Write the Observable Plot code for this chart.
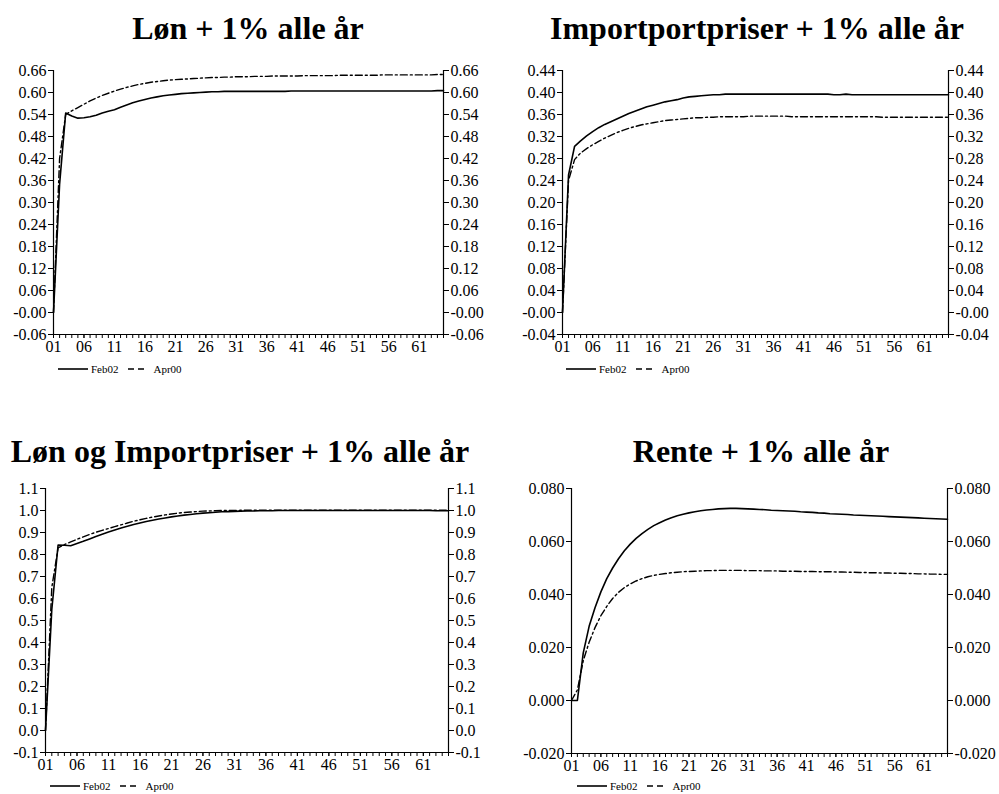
<!DOCTYPE html>
<html><head><meta charset="utf-8">
<script src="https://cdn.jsdelivr.net/npm/d3@7"></script>
<script src="https://cdn.jsdelivr.net/npm/@observablehq/plot@0.6"></script>
<style>
body{margin:0;background:#fff;}
#root{position:relative;width:999px;height:794px;font-family:"Liberation Serif","Times New Roman",serif;color:#000;overflow:hidden;}
.title{position:absolute;font-weight:bold;font-size:32px;white-space:nowrap;transform:translateX(-50%);line-height:1;}
.panel{position:absolute;}
.legend{position:absolute;font-size:11px;display:flex;align-items:center;white-space:nowrap;height:12px;line-height:12px;}
.legend svg{display:block;}
</style></head><body><div id="root"></div>
<script>
// ---------- categories ----------
const periods = Array.from({length: 65}, (_, i) => i + 1);
const xTicks = [1, 6, 11, 16, 21, 26, 31, 36, 41, 46, 51, 56, 61];
const xLabels = ["01","06","11","16","21","26","31","36","41","46","51","56","61"];
const seriesNames = ["Feb02", "Apr00"];
const titles = ["Løn + 1% alle år", "Importportpriser + 1% alle år", "Løn og Importpriser + 1% alle år", "Rente + 1% alle år"];

// ---------- panel 1: Løn ----------
const lonFeb02 = [
  0.000, 0.350, 0.544, 0.536, 0.530, 0.531, 0.534, 0.538, 0.544, 0.549,
  0.553, 0.560, 0.566, 0.572, 0.577, 0.581, 0.585, 0.588, 0.591, 0.593,
  0.595, 0.597, 0.598, 0.599, 0.600, 0.601, 0.602, 0.602, 0.603, 0.603,
  0.603, 0.603, 0.603, 0.603, 0.603, 0.603, 0.603, 0.603, 0.603, 0.604,
  0.604, 0.604, 0.604, 0.604, 0.604, 0.604, 0.604, 0.604, 0.604, 0.604,
  0.604, 0.604, 0.604, 0.604, 0.604, 0.604, 0.604, 0.604, 0.604, 0.604,
  0.604, 0.604, 0.604, 0.605, 0.605];
const lonApr00 = [
  0.000, 0.420, 0.540, 0.550, 0.559, 0.568, 0.577, 0.585, 0.592, 0.598,
  0.604, 0.609, 0.614, 0.618, 0.622, 0.625, 0.628, 0.630, 0.632, 0.634,
  0.635, 0.636, 0.637, 0.638, 0.639, 0.640, 0.641, 0.641, 0.642, 0.642,
  0.643, 0.643, 0.643, 0.644, 0.644, 0.644, 0.645, 0.645, 0.645, 0.645,
  0.645, 0.646, 0.646, 0.646, 0.646, 0.646, 0.646, 0.647, 0.647, 0.647,
  0.647, 0.647, 0.647, 0.647, 0.648, 0.648, 0.648, 0.648, 0.648, 0.648,
  0.648, 0.648, 0.648, 0.649, 0.649];
const lonTicks = [-0.06, 0, 0.06, 0.12, 0.18, 0.24, 0.30, 0.36, 0.42, 0.48, 0.54, 0.60, 0.66];
const lonLabels = ["-0.06","-0.00","0.06","0.12","0.18","0.24","0.30","0.36","0.42","0.48","0.54","0.60","0.66"];

// ---------- panel 2: Importpriser ----------
const impFeb02 = [
  0.000, 0.250, 0.302, 0.312, 0.321, 0.329, 0.336, 0.342, 0.347, 0.352,
  0.357, 0.362, 0.366, 0.370, 0.374, 0.377, 0.380, 0.383, 0.385, 0.387,
  0.390, 0.392, 0.393, 0.394, 0.395, 0.396, 0.396, 0.397, 0.397, 0.397,
  0.397, 0.397, 0.397, 0.397, 0.397, 0.397, 0.397, 0.397, 0.397, 0.397,
  0.397, 0.397, 0.397, 0.397, 0.397, 0.396, 0.396, 0.397, 0.396, 0.396,
  0.396, 0.396, 0.396, 0.396, 0.396, 0.396, 0.396, 0.396, 0.396, 0.396,
  0.396, 0.396, 0.396, 0.396, 0.396];
const impApr00 = [
  0.000, 0.240, 0.278, 0.290, 0.298, 0.305, 0.311, 0.317, 0.322, 0.327,
  0.331, 0.335, 0.338, 0.341, 0.343, 0.345, 0.347, 0.349, 0.350, 0.351,
  0.352, 0.353, 0.354, 0.354, 0.355, 0.355, 0.356, 0.356, 0.356, 0.356,
  0.356, 0.357, 0.357, 0.357, 0.357, 0.357, 0.357, 0.357, 0.356, 0.356,
  0.356, 0.356, 0.356, 0.356, 0.356, 0.356, 0.356, 0.356, 0.356, 0.356,
  0.356, 0.356, 0.356, 0.355, 0.355, 0.355, 0.355, 0.355, 0.355, 0.355,
  0.355, 0.355, 0.355, 0.355, 0.355];
const impTicks = [-0.04, 0, 0.04, 0.08, 0.12, 0.16, 0.20, 0.24, 0.28, 0.32, 0.36, 0.40, 0.44];
const impLabels = ["-0.04","-0.00","0.04","0.08","0.12","0.16","0.20","0.24","0.28","0.32","0.36","0.40","0.44"];

// ---------- panel 3: Løn og Importpriser ----------
const bothFeb02 = [
  0.000, 0.550, 0.843, 0.842, 0.840, 0.850, 0.860, 0.871, 0.882, 0.892,
  0.902, 0.911, 0.920, 0.928, 0.936, 0.943, 0.950, 0.956, 0.961, 0.966,
  0.971, 0.975, 0.979, 0.982, 0.985, 0.988, 0.990, 0.992, 0.994, 0.995,
  0.996, 0.997, 0.998, 0.998, 0.999, 0.999, 0.999, 1.000, 1.000, 1.000,
  1.000, 1.000, 1.000, 1.000, 1.000, 1.000, 1.000, 1.000, 1.000, 1.000,
  1.000, 1.000, 1.000, 1.000, 1.000, 1.000, 1.000, 1.000, 1.000, 1.000,
  1.000, 1.000, 0.999, 0.999, 0.999];
const bothApr00 = [
  0.000, 0.650, 0.830, 0.845, 0.857, 0.869, 0.880, 0.891, 0.901, 0.910,
  0.918, 0.927, 0.935, 0.943, 0.951, 0.958, 0.964, 0.970, 0.975, 0.980,
  0.984, 0.988, 0.991, 0.993, 0.995, 0.997, 0.998, 0.999, 1.000, 1.000,
  1.000, 1.001, 1.001, 1.001, 1.001, 1.001, 1.001, 1.001, 1.001, 1.001,
  1.001, 1.001, 1.001, 1.001, 1.001, 1.001, 1.001, 1.001, 1.001, 1.001,
  1.001, 1.001, 1.001, 1.001, 1.001, 1.001, 1.001, 1.001, 1.001, 1.001,
  1.001, 1.001, 1.001, 1.001, 1.001];
const bothTicks = [-0.1, 0, 0.1, 0.2, 0.3, 0.4, 0.5, 0.6, 0.7, 0.8, 0.9, 1.0, 1.1];
const bothLabels = ["-0.1","0.0","0.1","0.2","0.3","0.4","0.5","0.6","0.7","0.8","0.9","1.0","1.1"];

// ---------- panel 4: Rente ----------
const renteFeb02 = [
  0.0000, 0.0000, 0.0180, 0.0280, 0.0350, 0.0410, 0.0460, 0.0500, 0.0535, 0.0565,
  0.0590, 0.0612, 0.0630, 0.0646, 0.0660, 0.0671, 0.0681, 0.0690, 0.0697, 0.0703,
  0.0708, 0.0712, 0.0716, 0.0719, 0.0721, 0.0723, 0.0724, 0.0725, 0.0725, 0.0724,
  0.0723, 0.0722, 0.0721, 0.0720, 0.0718, 0.0717, 0.0716, 0.0715, 0.0714, 0.0712,
  0.0711, 0.0710, 0.0708, 0.0707, 0.0705, 0.0704, 0.0703, 0.0702, 0.0700, 0.0699,
  0.0698, 0.0697, 0.0696, 0.0695, 0.0694, 0.0693, 0.0692, 0.0691, 0.0690, 0.0689,
  0.0688, 0.0687, 0.0686, 0.0685, 0.0684];
const renteApr00 = [
  0.0000, 0.0040, 0.0150, 0.0220, 0.0275, 0.0320, 0.0355, 0.0385, 0.0408, 0.0426,
  0.0440, 0.0451, 0.0460, 0.0467, 0.0472, 0.0476, 0.0479, 0.0482, 0.0484, 0.0486,
  0.0487, 0.0488, 0.0489, 0.0490, 0.0490, 0.0491, 0.0491, 0.0491, 0.0491, 0.0491,
  0.0490, 0.0490, 0.0490, 0.0489, 0.0489, 0.0489, 0.0488, 0.0488, 0.0488, 0.0487,
  0.0487, 0.0487, 0.0486, 0.0486, 0.0486, 0.0485, 0.0485, 0.0484, 0.0484, 0.0483,
  0.0483, 0.0482, 0.0482, 0.0481, 0.0481, 0.0480, 0.0480, 0.0479, 0.0479, 0.0478,
  0.0478, 0.0477, 0.0477, 0.0476, 0.0476];
const renteTicks = [-0.02, 0, 0.02, 0.04, 0.06, 0.08];
const renteLabels = ["-0.020","0.000","0.020","0.040","0.060","0.080"];

// ---------- layout ----------
const root = document.getElementById("root");
const panels = [
  {title: titles[0], cx: 248, ty: 12, left: 0, top: 50, w: 500, h: 320, ml: 53, mr: 57, mt: 20, mb: 36,
   feb: lonFeb02, apr: lonApr00, ticks: lonTicks, labels: lonLabels, lx: 58, ly: 363},
  {title: titles[1], cx: 757, ty: 12, left: 500, top: 50, w: 499, h: 320, ml: 62, mr: 51, mt: 20, mb: 36,
   feb: impFeb02, apr: impApr00, ticks: impTicks, labels: impLabels, lx: 566, ly: 363},
  {title: titles[2], cx: 240, ty: 435, left: 0, top: 468, w: 500, h: 320, ml: 45, mr: 52, mt: 20, mb: 36,
   feb: bothFeb02, apr: bothApr00, ticks: bothTicks, labels: bothLabels, lx: 50, ly: 780},
  {title: titles[3], cx: 761, ty: 435, left: 500, top: 468, w: 499, h: 320, ml: 71, mr: 52, mt: 20, mb: 35,
   feb: renteFeb02, apr: renteApr00, ticks: renteTicks, labels: renteLabels, lx: 577, ly: 780}
];

const DASH = "7,3,2,3";

for (const p of panels) {
  const t = document.createElement("div");
  t.className = "title";
  t.style.left = p.cx + "px";
  t.style.top = p.ty + "px";
  t.textContent = p.title;
  root.appendChild(t);

  const yFmt = d => p.labels[p.ticks.indexOf(d)];
  const xFmt = d => xLabels[xTicks.indexOf(d)];
  const ymin = p.ticks[0], ymax = p.ticks[p.ticks.length - 1];

  const chart = Plot.plot({
    width: p.w, height: p.h,
    marginLeft: p.ml, marginRight: p.mr, marginTop: p.mt, marginBottom: p.mb,
    style: {fontFamily: "'Liberation Serif','Times New Roman',serif", fontSize: "16px", color: "#000", background: "transparent", overflow: "visible"},
    x: {domain: [1, 65], axis: null},
    y: {domain: [ymin, ymax], axis: null},
    marks: [
      Plot.axisX({ticks: periods, tickSize: 4, tickFormat: () => "", stroke: "#000"}),
      Plot.axisX({ticks: xTicks, tickSize: 4, tickPadding: 2, tickFormat: xFmt, stroke: "#000", fill: "#000"}),
      Plot.axisY({anchor: "left", ticks: p.ticks, tickSize: 5, tickPadding: 2, tickFormat: yFmt, stroke: "#000", fill: "#000"}),
      Plot.axisY({anchor: "right", ticks: p.ticks, tickSize: 5, tickPadding: 2, tickFormat: yFmt, stroke: "#000", fill: "#000"}),
      Plot.ruleX([1, 65], {stroke: "#000", strokeWidth: 1.2}),
      Plot.ruleY([ymin], {stroke: "#000", strokeWidth: 1.2}),
      Plot.line(p.apr, {x: periods, y: p.apr, stroke: "#000", strokeWidth: 1.4, strokeDasharray: DASH}),
      Plot.line(p.feb, {x: periods, y: p.feb, stroke: "#000", strokeWidth: 1.6})
    ]
  });
  const wrap = document.createElement("div");
  wrap.className = "panel";
  wrap.style.left = p.left + "px";
  wrap.style.top = p.top + "px";
  wrap.appendChild(chart);
  root.appendChild(wrap);

  const lg = document.createElement("div");
  lg.className = "legend";
  lg.style.left = p.lx + "px";
  lg.style.top = p.ly + "px";
  lg.innerHTML =
    `<svg width="30" height="12"><line x1="0" x2="30" y1="6" y2="6" stroke="#000" stroke-width="1.6"/></svg>` +
    `<span style="margin-left:3px">${seriesNames[0]}</span>` +
    `<svg width="18" height="12" style="margin-left:9px"><line x1="0" x2="18" y1="6" y2="6" stroke="#000" stroke-width="1.4" stroke-dasharray="6,4"/></svg>` +
    `<span style="margin-left:8px">${seriesNames[1]}</span>`;
  root.appendChild(lg);
}
</script>
</body></html>
